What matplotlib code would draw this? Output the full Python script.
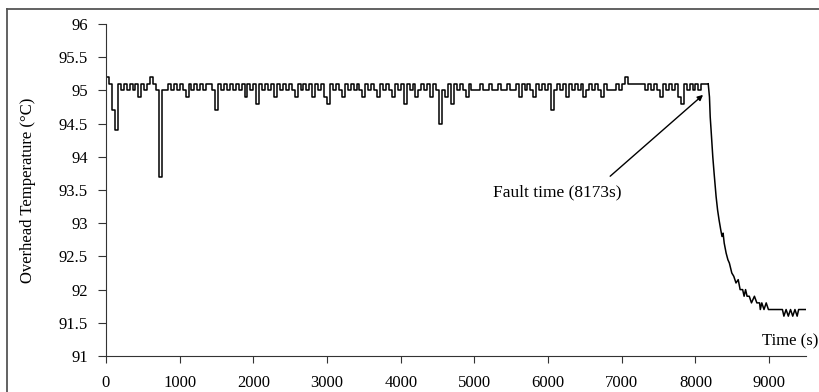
import matplotlib.pyplot as plt
from matplotlib.lines import Line2D

plt.rcParams['font.family'] = ['Liberation Serif', 'DejaVu Serif']

# normal operation, sampled every 40 s from 0 to 8160 s
STEP = 40
normal_temp = [
    95.2, 95.1, 94.7, 94.4, 95.1, 95.0, 95.1, 95.0, 95.1, 95.0, 95.1, 94.9, 95.1, 95.0, 95.1, 95.2, 95.1, 95.0, 93.7, 95.0, 95.0, 95.1, 95.0, 95.1, 95.0,
    95.1, 95.0, 94.9, 95.1, 95.0, 95.1, 95.0, 95.1, 95.0, 95.1, 95.1, 95.0, 94.7, 95.1, 95.0, 95.1, 95.0, 95.1, 95.0, 95.1, 95.0, 95.1, 94.9, 95.1, 95.0,
    95.1, 94.8, 95.1, 95.0, 95.1, 95.0, 95.1, 94.9, 95.1, 95.0, 95.1, 95.0, 95.1, 95.0, 94.9, 95.1, 95.0, 95.1, 95.0, 95.1, 94.9, 95.1, 95.0, 95.1, 94.9,
    94.8, 95.1, 95.0, 95.1, 95.0, 94.9, 95.1, 95.0, 95.1, 95.0, 95.1, 95.0, 94.9, 95.1, 95.0, 95.1, 95.0, 94.9, 95.1, 95.0, 95.1, 95.0, 94.9, 95.1, 95.0,
    95.1, 94.8, 95.1, 95.0, 95.1, 94.9, 95.0, 95.1, 95.0, 95.1, 94.9, 95.1, 95.0, 94.5, 95.0, 94.9, 95.1, 94.8, 95.1, 95.0, 95.1, 95.0, 94.9, 95.1, 95.0,
    95.0, 95.0, 95.1, 95.0, 95.0, 95.1, 95.0, 95.0, 95.1, 95.0, 95.0, 95.1, 95.0, 95.0, 95.1, 94.9, 95.1, 95.0, 95.1, 95.0, 94.9, 95.1, 95.0, 95.1, 95.0,
    95.1, 94.7, 95.0, 95.1, 95.0, 95.1, 94.9, 95.1, 95.0, 95.1, 95.0, 95.1, 94.9, 95.0, 95.1, 95.0, 95.1, 95.0, 94.9, 95.1, 95.0, 95.0, 95.0, 95.1, 95.0,
    95.1, 95.2, 95.1, 95.1, 95.1, 95.1, 95.1, 95.1, 95.0, 95.1, 95.0, 95.1, 95.0, 94.9, 95.1, 95.0, 95.1, 95.0, 95.1, 94.9, 94.8, 95.1, 95.0, 95.1, 95.0,
    95.1, 95.0, 95.1, 95.1, 95.1,
]

# after the fault
fault_time = [8173, 8190, 8200, 8212, 8235, 8253, 8280, 8300, 8320, 8343, 8360, 8375, 8390, 8416, 8440,
              8460, 8493, 8520, 8550, 8580, 8606, 8640, 8660, 8680, 8700, 8730, 8760, 8800, 8833, 8870,
              8880, 8900, 8930, 8960, 8990, 9050, 9180, 9200, 9230, 9260, 9290, 9320, 9350, 9380, 9400, 9515]
fault_temp = [95.1, 94.9, 94.6, 94.4, 94.0, 93.75, 93.4, 93.2, 93.05, 92.9, 92.8, 92.85, 92.7, 92.55, 92.45,
              92.4, 92.25, 92.2, 92.1, 92.15, 92.0, 92.0, 91.9, 92.0, 91.9, 91.9, 91.8, 91.9, 91.8, 91.8,
              91.7, 91.8, 91.7, 91.8, 91.7, 91.7, 91.7, 91.6, 91.7, 91.6, 91.7, 91.6, 91.7, 91.6, 91.7, 91.7]

normal_time = [i * STEP for i in range(len(normal_temp))]

fig = plt.figure(figsize=(8.2, 3.92), dpi=100)
ax = fig.add_axes([106 / 820, 1 - 356 / 392, 700 / 820, 332 / 392])

ax.plot(normal_time + fault_time[:1], normal_temp + fault_temp[:1], color='black', lw=1.1, drawstyle='steps-post')
ax.plot(fault_time, fault_temp, color='black', lw=1.1)

ax.set_xlim(0, 9500)
ax.set_ylim(91, 96)
ax.set_xticks(range(0, 10000, 1000))
ax.set_yticks([91, 91.5, 92, 92.5, 93, 93.5, 94, 94.5, 95, 95.5, 96])
ax.set_yticklabels(['91', '91.5', '92', '92.5', '93', '93.5', '94', '94.5', '95', '95.5', '96'])
ax.spines['top'].set_visible(False)
ax.spines['right'].set_visible(False)
for s in ['left', 'bottom']:
    ax.spines[s].set_color('#333333')
ax.tick_params(axis='x', direction='out', length=5, pad=9, labelsize=12, color='#333333')
ax.tick_params(axis='y', direction='out', length=6, pad=7, labelsize=12, color='#333333')

ax.set_ylabel('Overhead Temperature (\u00b0C)', fontsize=12)
ax.yaxis.set_label_coords(-0.1, 0.5)

fig.text(818 / 820, 1 - 341 / 392, 'Time (s)', ha='right', va='center', fontsize=12)

ax.annotate('', xy=(8131, 94.96), xytext=(6814, 93.68),
            arrowprops=dict(arrowstyle='-|>', color='black', lw=1.0, mutation_scale=8))
ax.text(5253, 93.47, 'Fault time (8173s)', ha='left', va='center', fontsize=12.5)

# outer frame
fig.add_artist(Line2D([7.5 / 820, 1], [1 - 9 / 392, 1 - 9 / 392], color='#555555', lw=1.3))
fig.add_artist(Line2D([7.5 / 820, 7.5 / 820], [0, 1 - 9 / 392], color='#555555', lw=1.3))

fig.savefig('out.png', dpi=100)
